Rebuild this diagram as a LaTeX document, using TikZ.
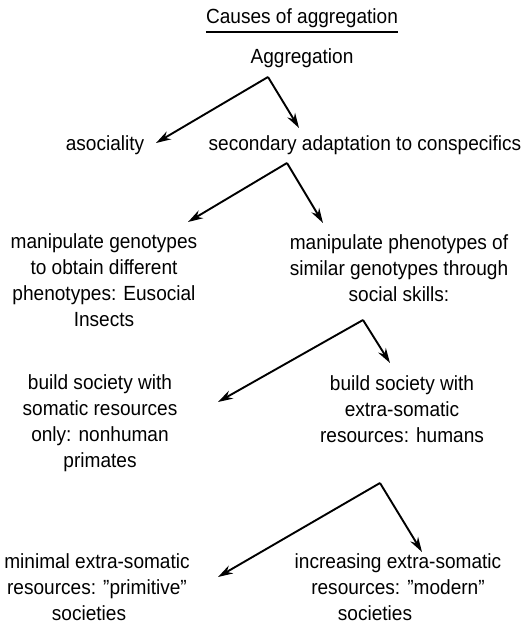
\documentclass[tikz,border=0pt]{standalone}
\usepackage{fontspec}
\setmainfont[FakeStretch=0.93]{Liberation Sans}
\usepackage{tikz}
\usetikzlibrary{arrows.meta,positioning,calc}

\begin{document}
\begin{tikzpicture}[
    x=1pt, y=-1pt,
    every node/.style={font=\fontsize{20.5}{26}\selectfont, inner sep=0pt},
    cause/.style={align=center},
    arr/.style={-{Stealth[length=15pt, width=9pt]}, line width=1.9pt}
]
    \useasboundingbox (0,0) rectangle (527,632);

    % Nodes
    \node (title) at (302,18) {Causes of aggregation};
    \node (agg) at (302,58) {Aggregation};

    \node (asoc) at (105,145) {asociality};
    \node (sec) at (365,145) {secondary adaptation to conspecifics};

    \node[cause] (geno) at (104,280) {manipulate genotypes\\to obtain different\\phenotypes: Eusocial\\Insects};
    \node[cause] (pheno) at (399,268) {manipulate phenotypes of\\similar genotypes through\\social skills:};

    \node[cause] (soma) at (100,423) {build society with\\somatic resources\\only: nonhuman\\primates};
    \node[cause] (human) at (402,409) {build society with\\extra-somatic\\resources: humans};

    \node[cause] (minim) at (97,587) {minimal extra-somatic\\resources: ”primitive”\\societies\hspace*{16pt}};
    \node[cause] (modern) at (398,587) {increasing extra-somatic\\resources: ”modern”\\societies\hspace*{46pt}};

    \draw[line width=1.6pt] ([yshift=-4pt]title.south west) -- ([yshift=-4pt]title.south east);

    % Forks
    \coordinate (f1) at ($(agg)+(-34,19)$);
    \coordinate (f2) at ($(sec)+(-78,18)$);
    \coordinate (f3) at ($(pheno)+(-36,52)$);
    \coordinate (f4) at ($(human)+(-22,74)$);

    % Edges
    \draw[arr] (f1) -- ($(asoc)+(51,-2)$);
    \draw[arr] (f1) -- ($(sec)+(-66,-17)$);
    \draw[arr] (f2) -- ($(geno)+(84,-58)$);
    \draw[arr] (f2) -- ($(pheno)+(-76,-45)$);
    \draw[arr] (f3) -- ($(soma)+(118,-21)$);
    \draw[arr] (f3) -- ($(human)+(-12,-46)$);
    \draw[arr] (f4) -- ($(minim)+(121,-10)$);
    \draw[arr] (f4) -- ($(modern)+(24,-35)$);
\end{tikzpicture}
\end{document}
